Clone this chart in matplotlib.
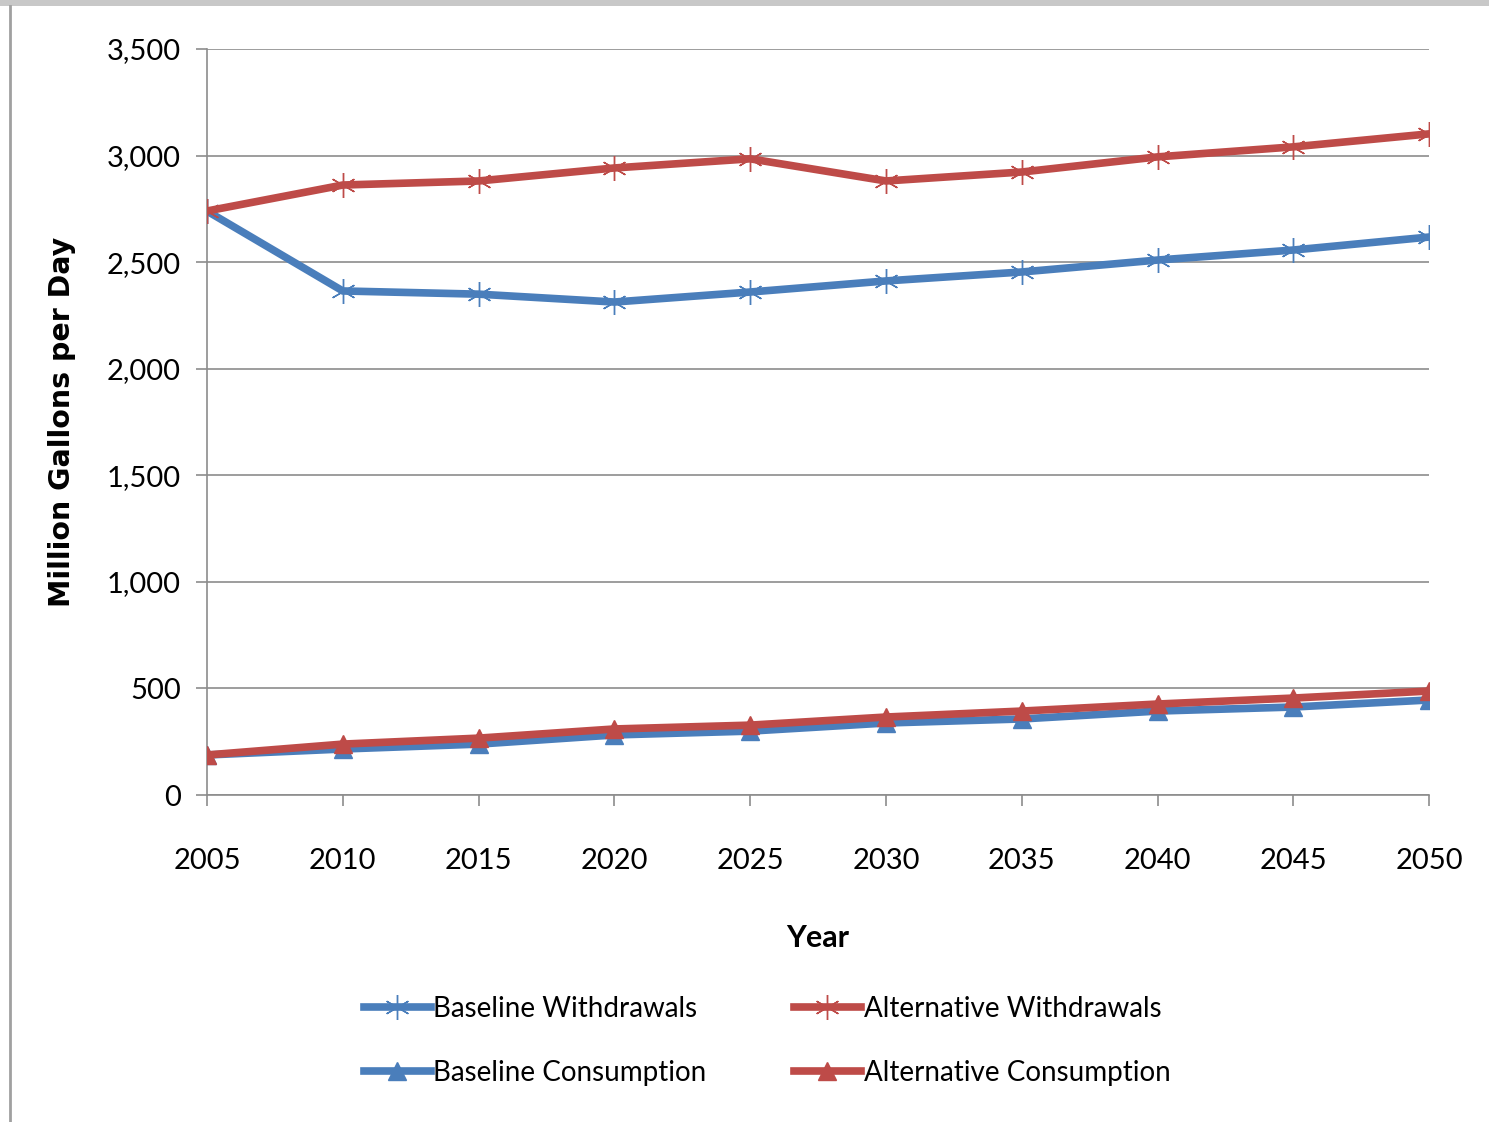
import numpy as np
import matplotlib.pyplot as plt
from matplotlib.patches import Rectangle
from matplotlib.ticker import FuncFormatter
from matplotlib.lines import Line2D

years = [2005, 2010, 2015, 2020, 2025, 2030, 2035, 2040, 2045, 2050]
baseline_withdrawals = [2740, 2365, 2350, 2313, 2360, 2412, 2454, 2510, 2557, 2618]
alternative_withdrawals = [2740, 2862, 2881, 2942, 2985, 2881, 2923, 2994, 3041, 3102]
baseline_consumption = [188, 216, 239, 282, 300, 338, 357, 394, 413, 446]
alternative_consumption = [188, 239, 267, 310, 328, 366, 394, 427, 455, 488]

blue = '#4A7EBB'
red = '#BE4B48'
narrow = ['Lato', 'DejaVu Sans']

fig = plt.figure(figsize=(14.89, 11.22), dpi=100)
fig.patches.append(Rectangle((0, 0.9947), 1, 0.0053, transform=fig.transFigure,
                             facecolor='#c8c8c8', edgecolor='none'))
fig.add_artist(Line2D([0.0064, 0.0064], [0, 0.9947], color='#a0a0a0', lw=2,
                      transform=fig.transFigure))

ax = fig.add_axes([0.139, 0.2914, 0.8208, 0.6649])
x = np.arange(len(years))

star = (6, 2, 0)
ax.plot(x, baseline_withdrawals, color=blue, lw=5.5, marker=star, ms=18,
        mew=1.0, label='Baseline Withdrawals', zorder=3)
ax.plot(x, alternative_withdrawals, color=red, lw=5.5, marker=star, ms=18,
        mew=1.0, label='Alternative Withdrawals', zorder=4)
ax.plot(x, baseline_consumption, color=blue, lw=5.5, marker='^', ms=13,
        label='Baseline Consumption', zorder=3)
ax.plot(x, alternative_consumption, color=red, lw=5.5, marker='^', ms=13,
        label='Alternative Consumption', zorder=4)

ax.set_xlim(0, len(years) - 1)
ax.set_ylim(0, 3500)
ax.set_yticks(np.arange(0, 3501, 500))
ax.yaxis.set_major_formatter(FuncFormatter(lambda v, p: f'{int(v):,}'))
ax.set_xticks(x)
ax.set_xticklabels([str(y) for y in years])
ax.grid(axis='y', color='#8c8c8c', lw=1.2)
ax.set_axisbelow(True)

for s in ['top', 'right']:
    ax.spines[s].set_visible(False)
for s in ['left', 'bottom']:
    ax.spines[s].set_color('#8c8c8c')
    ax.spines[s].set_linewidth(1.2)
ax.tick_params(axis='both', colors='#8c8c8c', length=8, width=1.2, labelcolor='black')
ax.tick_params(axis='x', pad=30)
ax.tick_params(axis='y', pad=11)
for lab in ax.get_xticklabels() + ax.get_yticklabels():
    lab.set_family(narrow)
    lab.set_fontsize(21)

ax.set_ylabel('Million Gallons per Day', fontsize=20.5, fontweight='bold',
              family=['DejaVu Sans'], labelpad=22)
ax.set_xlabel('Year', fontsize=22, fontweight='bold', family=narrow, labelpad=36)

handles, labels = ax.get_legend_handles_labels()
order = [0, 2, 1, 3]
leg = ax.legend([handles[i] for i in order], [labels[i] for i in order],
                loc='upper left', bbox_to_anchor=(0.108, -0.236), ncol=2,
                frameon=False, prop={'family': narrow, 'size': 20},
                handlelength=2.4, handletextpad=0.1, columnspacing=3.15,
                labelspacing=1.35)

fig.savefig('out.png', dpi=100)
